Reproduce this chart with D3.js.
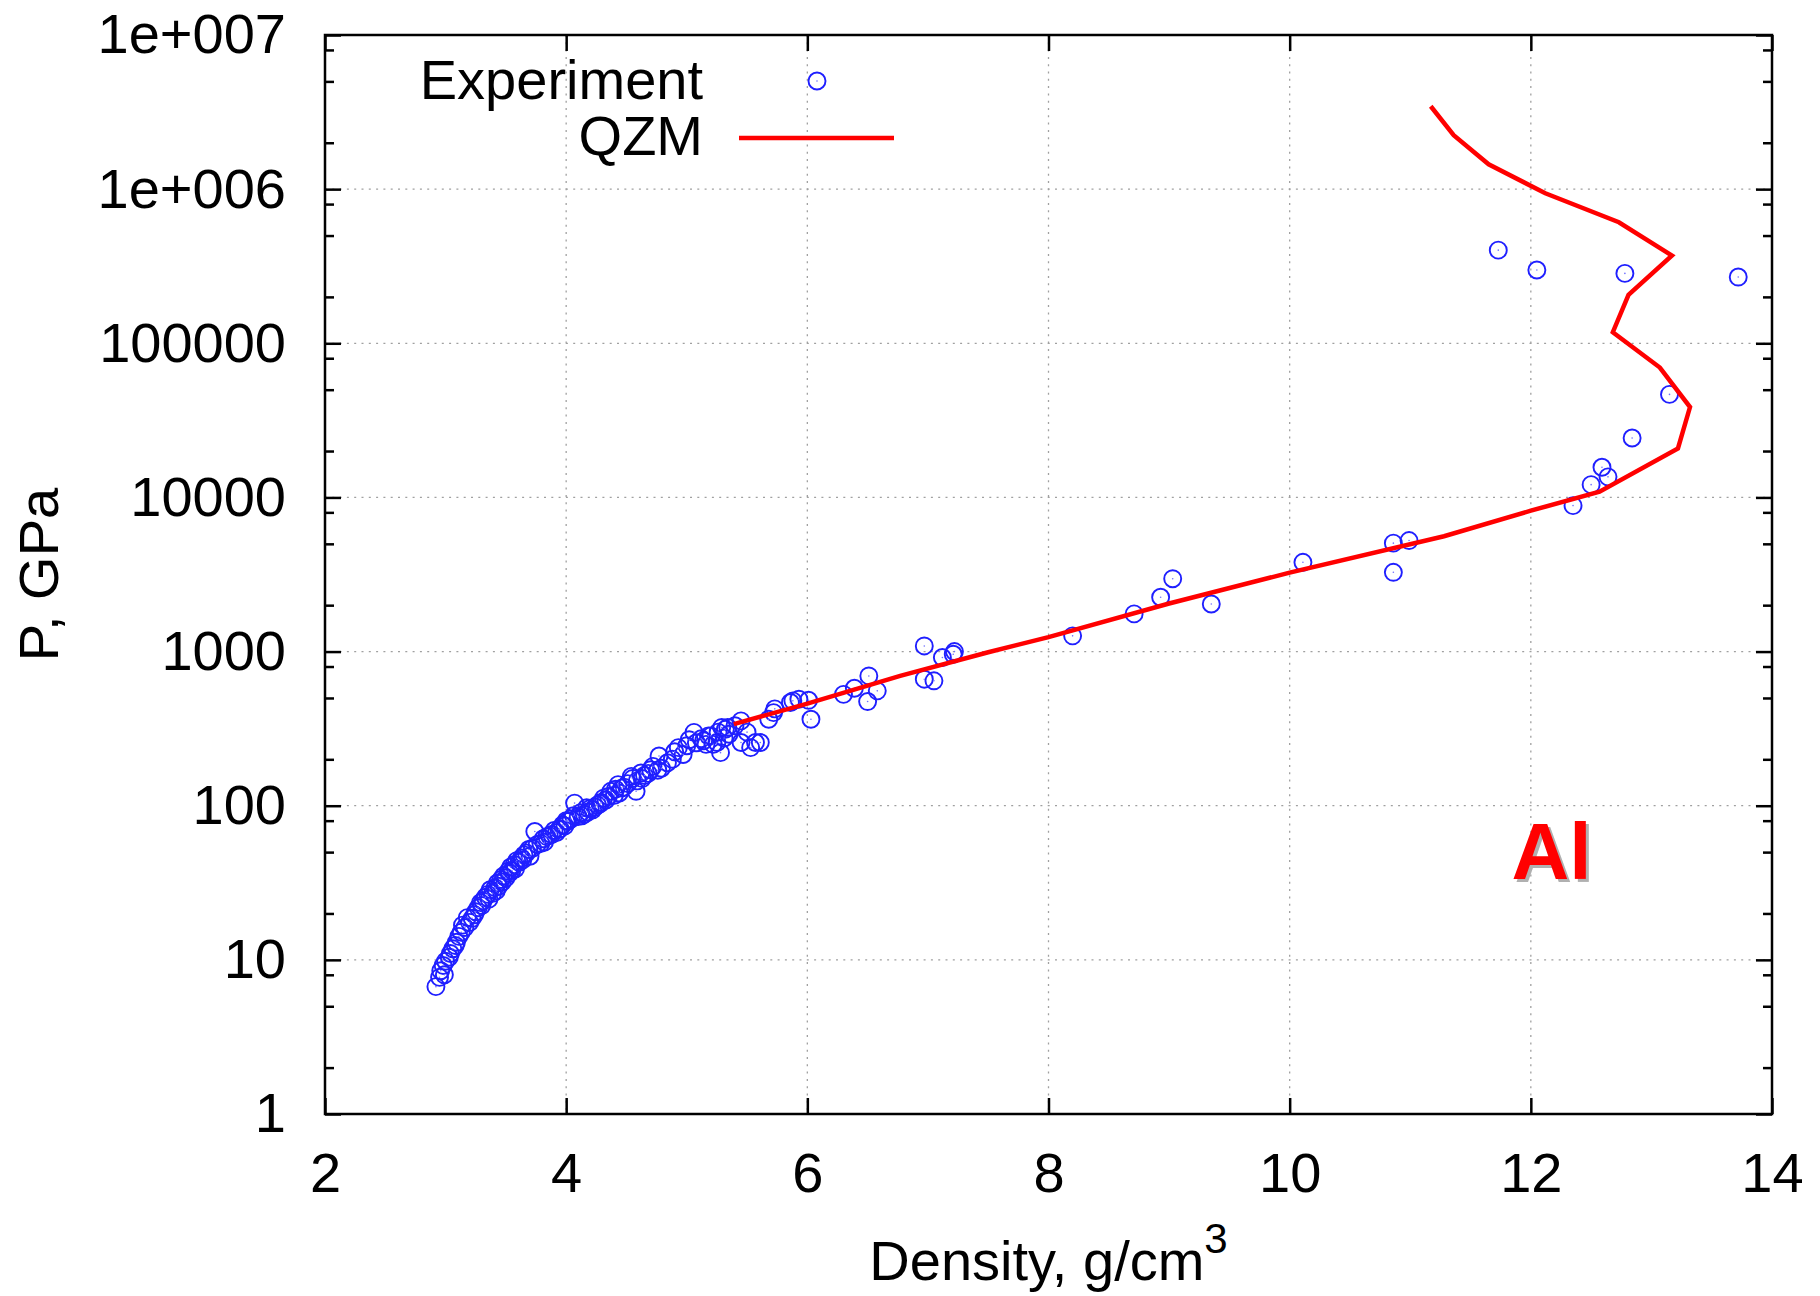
<!DOCTYPE html>
<html>
<head>
<meta charset="utf-8">
<script src="https://cdn.jsdelivr.net/npm/d3@7"></script>
<style>
  body { margin: 0; background: #fff; }
  svg { display: block; font-family: "Liberation Sans", Arial, sans-serif; }
</style>
</head>
<body>
<svg id="chart" width="1820" height="1296"></svg>
<script>
var seriesNames = ["Experiment", "QZM"];

// experimental points, density (g/cm3) and pressure (GPa)
var expDensity = [
  2.92, 2.95, 2.96, 2.98, 2.99, 3.03, 3.04, 3.06, 3.09, 3.11, 3.13, 3.16, 3.20, 3.22, 3.25,
  3.27, 3.29, 3.31, 3.33, 3.35, 3.37, 3.39, 3.41, 3.43, 3.44, 3.46, 3.48, 3.50, 3.52, 3.54,
  3.55, 3.57, 3.59, 3.61, 3.63, 3.65, 3.67, 3.69, 3.72, 3.74, 3.76, 3.79, 3.81, 3.84, 3.88,
  3.90, 3.92, 3.95, 3.97, 3.99, 4.01, 4.04, 4.07, 4.10, 4.12, 4.15, 4.18, 4.20, 4.22, 4.26,
  4.29, 4.31, 4.33, 4.37, 4.40, 4.43, 4.46, 4.51, 4.54, 4.58, 4.59, 4.62, 4.65, 4.70, 4.76,
  4.77, 4.79, 4.84, 4.93, 4.97, 5.06, 5.08, 5.14, 5.18, 5.20, 5.22, 5.25, 5.28, 5.29, 5.32,
  5.34, 5.35, 5.45, 5.45, 5.53, 5.57, 5.61, 5.68, 5.72, 5.73, 5.86, 5.88, 5.93, 6.01, 6.03,
  6.30, 6.39, 6.50, 6.51, 6.58, 6.97, 6.97, 7.05, 7.12, 7.21, 7.22,
  3.18, 3.30, 3.42, 3.53, 3.64, 3.86, 4.00, 4.13, 4.24, 4.35, 4.48, 4.68, 4.88, 5.00, 5.12,
  3.00, 3.08, 3.14, 3.24, 3.36, 3.47, 3.58, 3.70, 3.82, 3.94, 4.06, 4.17, 4.28, 4.41, 4.55,
  4.72, 4.90, 5.02, 5.16, 5.26, 5.31, 5.40, 5.50, 4.44, 4.63,
  8.20, 8.71, 8.93, 9.03, 9.35, 10.11, 10.86, 10.99, 10.86, 12.35, 12.50, 12.59, 12.64, 12.84,
  13.15, 11.73, 12.05, 12.78, 13.72
];
var expPressure = [
  6.7, 7.7, 8.5, 9.2, 8.0, 10.4, 11.0, 11.8, 13.0, 14.2, 15.1, 16.2, 17.5, 18.6, 20.5,
  21.8, 23.5, 24.1, 25.5, 26.6, 28.5, 27.0, 29.4, 31.5, 30.0, 33.2, 35.0, 34.0, 37.6, 40.0,
  38.0, 41.5, 44.0, 43.0, 45.8, 48.0, 49.3, 52.0, 53, 68, 56, 57, 61, 63, 65,
  69, 67, 71, 75, 74, 79, 82, 104, 85, 90, 88, 91, 96, 94, 101,
  105, 112, 109, 124, 117, 137, 130, 139, 155, 124, 145, 163, 157, 171, 170,
  210, 175, 190, 238, 215, 299, 256, 264, 284, 284, 250, 257, 221, 322, 313,
  322, 291, 355, 257, 238, 257, 257, 364, 402, 425, 467, 479, 491, 483, 364,
  528, 578, 474, 695, 556, 1088, 662, 646, 915, 960, 1000,
  18.8, 22.5, 28.0, 36.5, 44.5, 64, 80, 86, 98, 115, 132, 162, 200, 245, 272,
  9.8, 12.4, 16.8, 19.6, 24.8, 32.0, 39.0, 47.0, 58, 70, 86, 97, 103, 128, 150,
  180, 224, 268, 250, 300, 275, 330, 300, 121, 150,
  1265, 1755, 2250, 2970, 2036, 3794, 5050, 5250, 3267, 8850, 12100, 15700, 13600, 24300,
  46600, 402000, 299000, 284000, 269000
];

// QZM model curve
var qzmDensity = [5.39, 6.0, 6.77, 7.5, 8.0, 9.0, 10.0, 11.28, 12.0, 12.57, 13.22, 13.32,
  13.07, 12.68, 12.81, 13.17, 12.73, 12.12, 11.65, 11.36, 11.17];
var qzmPressure = [338, 460, 695, 990, 1240, 2050, 3250, 5600, 8200, 10900, 20800, 38600,
  69600, 118000, 206000, 371000, 610000, 940000, 1450000, 2240000, 3450000];

var xTicks = [2, 4, 6, 8, 10, 12, 14];
var yTicks = [1, 10, 100, 1000, 10000, 100000, 1000000, 10000000];
var yTickLabels = ["1", "10", "100", "1000", "10000", "100000", "1e+006", "1e+007"];
var yMinorSteps = [2, 5, 8];

(function draw() {
  var svg = d3.select("#chart");
  var left = 325, right = 1772, plotTop = 35, bottom = 1114;
  var fontSize = 56;

  var x = d3.scaleLinear().domain([2, 14]).range([left, right]);
  var y = d3.scaleLog().domain([1, 1e7]).range([bottom, plotTop]);

  var yMinor = [];
  yTicks.slice(0, -1).forEach(function (d) {
    yMinorSteps.forEach(function (m) { yMinor.push(d * m); });
  });

  // grid
  var grid = svg.append("g")
    .attr("stroke", "#a0a0a0")
    .attr("stroke-width", 1.3)
    .attr("stroke-dasharray", "2,5.3");
  grid.selectAll("line.gx")
    .data(xTicks.slice(1, -1))
    .enter().append("line")
    .attr("class", "gx")
    .attr("x1", d => x(d)).attr("x2", d => x(d))
    .attr("y1", plotTop).attr("y2", bottom);
  grid.selectAll("line.gy")
    .data(yTicks.slice(1, -1))
    .enter().append("line")
    .attr("class", "gy")
    .attr("x1", left).attr("x2", right)
    .attr("y1", d => y(d)).attr("y2", d => y(d));

  function styleAxis(g) {
    g.select(".domain").remove();
    g.selectAll(".tick line").attr("stroke", "#000").attr("stroke-width", 2.5);
    g.selectAll("text")
      .attr("fill", "#000")
      .attr("font-size", fontSize)
      .attr("font-family", "Liberation Sans, Arial, sans-serif");
  }

  svg.append("g")
    .attr("transform", "translate(0," + bottom + ")")
    .call(d3.axisBottom(x).tickValues(xTicks).tickSize(-16).tickPadding(38).tickFormat(d3.format("d")))
    .call(styleAxis);
  svg.append("g")
    .attr("transform", "translate(0," + plotTop + ")")
    .call(d3.axisTop(x).tickValues(xTicks).tickSize(-16).tickFormat(""))
    .call(styleAxis);
  svg.append("g")
    .attr("transform", "translate(" + left + ",0)")
    .call(d3.axisLeft(y).tickValues(yTicks).tickSize(-16).tickPadding(39)
      .tickFormat((d, i) => yTickLabels[i]))
    .call(styleAxis);
  svg.append("g")
    .attr("transform", "translate(" + left + ",0)")
    .call(d3.axisLeft(y).tickValues(yMinor).tickSize(-9).tickFormat(""))
    .call(styleAxis);
  svg.append("g")
    .attr("transform", "translate(" + right + ",0)")
    .call(d3.axisRight(y).tickValues(yTicks).tickSize(-16).tickFormat(""))
    .call(styleAxis);
  svg.append("g")
    .attr("transform", "translate(" + right + ",0)")
    .call(d3.axisRight(y).tickValues(yMinor).tickSize(-9).tickFormat(""))
    .call(styleAxis);

  // experiment circles
  var pts = expDensity.map((d, i) => [d, expPressure[i]]);
  var dots = svg.append("g");
  dots.selectAll("circle.pt")
    .data(pts)
    .enter().append("circle")
    .attr("class", "pt")
    .attr("cx", d => x(d[0]))
    .attr("cy", d => y(d[1]))
    .attr("r", 8.5)
    .attr("fill", "none")
    .attr("stroke", "#1f1fff")
    .attr("stroke-width", 1.9);
  dots.selectAll("circle.c")
    .data(pts)
    .enter().append("circle")
    .attr("class", "c")
    .attr("cx", d => x(d[0]))
    .attr("cy", d => y(d[1]))
    .attr("r", 0.8)
    .attr("fill", "#6f6fff");

  // QZM line
  var line = d3.line().x(d => x(d[0])).y(d => y(d[1]));
  svg.append("path")
    .datum(qzmDensity.map((d, i) => [d, qzmPressure[i]]))
    .attr("d", line)
    .attr("fill", "none")
    .attr("stroke", "#ff0000")
    .attr("stroke-width", 4.5)
    .attr("stroke-linejoin", "miter");

  // border
  svg.append("rect")
    .attr("x", left).attr("y", plotTop)
    .attr("width", right - left).attr("height", bottom - plotTop)
    .attr("fill", "none")
    .attr("stroke", "#000")
    .attr("stroke-width", 2.5);

  // legend
  var legend = svg.append("g").attr("font-size", fontSize).attr("fill", "#000");
  legend.append("text").attr("x", 703).attr("y", 99).attr("text-anchor", "end").text(seriesNames[0]);
  legend.append("circle").attr("cx", 817).attr("cy", 81).attr("r", 8.5)
    .attr("fill", "none").attr("stroke", "#1f1fff").attr("stroke-width", 1.9);
  legend.append("circle").attr("cx", 817).attr("cy", 81).attr("r", 0.8).attr("fill", "#6f6fff");
  legend.append("text").attr("x", 703).attr("y", 155).attr("text-anchor", "end").text(seriesNames[1]);
  legend.append("line").attr("x1", 739).attr("x2", 894).attr("y1", 138).attr("y2", 138)
    .attr("stroke", "#ff0000").attr("stroke-width", 4.5);

  // axis titles
  svg.append("text")
    .attr("transform", "translate(58," + (plotTop + bottom) / 2 + ") rotate(-90)")
    .attr("text-anchor", "middle")
    .attr("font-size", fontSize)
    .text("P, GPa");
  var xt = svg.append("text")
    .attr("x", (left + right) / 2)
    .attr("y", 1280)
    .attr("text-anchor", "middle")
    .attr("font-size", fontSize);
  xt.append("tspan").text("Density, g/cm");
  xt.append("tspan").attr("dy", -27).attr("font-size", 42).text("3");

  // element label with shadow
  var lx = x(11.84), ly = y(33.6);
  svg.append("text").attr("x", lx + 3).attr("y", ly + 3)
    .attr("font-size", 80).attr("font-weight", "bold").attr("fill", "#b0b0b0").text("Al");
  svg.append("text").attr("x", lx).attr("y", ly)
    .attr("font-size", 80).attr("font-weight", "bold").attr("fill", "#ff0000").text("Al");
})();
</script>
</body>
</html>
